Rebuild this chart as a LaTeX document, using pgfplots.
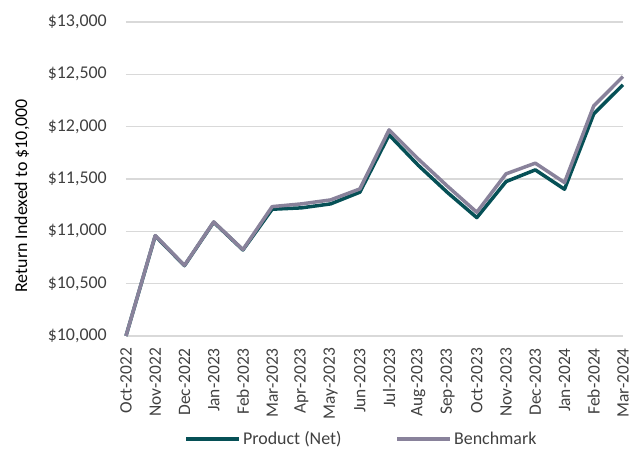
\documentclass[border=0pt]{standalone}
\usepackage{pgfplots}
\pgfplotsset{compat=1.18}
\usepackage{fontspec}
\setmainfont{Carlito}
\definecolor{prod}{RGB}{6,80,86}
\definecolor{bench}{RGB}{137,130,155}
\definecolor{gridc}{RGB}{217,217,217}
\definecolor{txt}{RGB}{64,64,64}
\begin{document}
\begin{tikzpicture}
\begin{axis}[
  scale only axis,
  width=497bp, height=314bp,
  xmin=0, xmax=17, ymin=10000, ymax=13000,
  ytick={10000,10500,...,13000},
  xtick={0,...,17},
  scaled y ticks=false,
  xticklabels={Oct-2022,Nov-2022,Dec-2022,Jan-2023,Feb-2023,Mar-2023,Apr-2023,May-2023,Jun-2023,Jul-2023,Aug-2023,Sep-2023,Oct-2023,Nov-2023,Dec-2023,Jan-2024,Feb-2024,Mar-2024},
  xticklabel style={yshift=-12bp, rotate=90, anchor=east, font=\fontsize{17.5}{20}\selectfont, text=txt, inner sep=0pt},
  yticklabel style={xshift=-19bp, anchor=east, font=\fontsize{18}{21}\selectfont, text=txt, inner sep=0pt},
  yticklabel={\$\pgfmathprintnumber[fixed,1000 sep={,}]{\tick}},
  /pgf/number format/assume math mode=true,
  major tick length=0pt,
  axis line style={draw=none},
  ymajorgrids, xmajorgrids=false, grid style={gridc, line width=1.5bp},
  ylabel={Return Indexed to \$10,000},
  ylabel style={font=\fontsize{18}{21}\selectfont, text=black, at={(rel axis cs:-0.209,0.446)}, anchor=center},
  clip=false,
  legend style={draw=none, at={(rel axis cs:0.474,-0.328)}, anchor=center, font=\fontsize{18}{21}\selectfont, text=txt, legend columns=2, /tikz/every even column/.append style={column sep=52bp}, inner sep=0pt},
  legend image code/.code={\draw[#1, line width=3.5bp] (0,0) -- (53bp,0);},
]
\path (rel axis cs:-0.2535,-0.3567) -- (rel axis cs:1.0282,1.070);
\addplot[prod, line width=3.5bp, line join=round] coordinates {
(0,10000) (1,10956) (2,10672) (3,11087) (4,10822) (5,11211) (6,11224) (7,11262) (8,11374) (9,11921) (10,11630) (11,11370) (12,11131) (13,11475) (14,11587) (15,11402) (16,12122) (17,12400)};
\addlegendentry{Product (Net)}
\addplot[bench, line width=3.5bp, line join=round] coordinates {
(0,10000) (1,10960) (2,10675) (3,11090) (4,10825) (5,11236) (6,11262) (7,11300) (8,11405) (9,11969) (10,11690) (11,11430) (12,11182) (13,11549) (14,11651) (15,11466) (16,12199) (17,12479)};
\addlegendentry{Benchmark}
\end{axis}
\end{tikzpicture}
\end{document}
